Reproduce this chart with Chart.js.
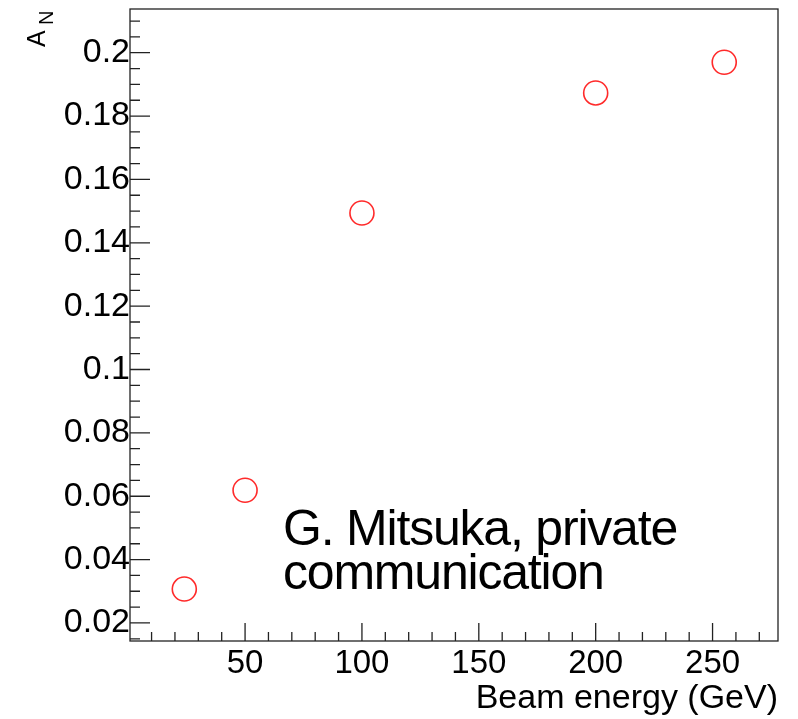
<!DOCTYPE html>
<html>
<head>
<meta charset="utf-8">
<script src="https://cdn.jsdelivr.net/npm/chart.js@4/dist/chart.umd.min.js"></script>
<style>
  html, body { margin: 0; padding: 0; background: #fff; }
  canvas { display: block; }
</style>
</head>
<body>
<canvas id="an-vs-energy" width="798" height="719"></canvas>
<script>
// Beam energy (GeV) and analysing power A_N
const energies = [24, 50, 100, 200, 255]
const asymmetries = [0.0307, 0.0619, 0.1494, 0.1873, 0.197]

// Axis ranges and ticks
const xRange = [0.77, 278]
const yRange = [0.0143, 0.2138]
const xTickValues = [50, 100, 150, 200, 250]
const yTickValues = [0.02, 0.04, 0.06, 0.08, 0.1, 0.12, 0.14, 0.16, 0.18, 0.2]
const yTickLabels = ['0.02', '0.04', '0.06', '0.08', '0.1', '0.12', '0.14', '0.16', '0.18', '0.2']
const xMinorStep = 10
const yMinorStep = 0.005

const FONT = 'Liberation Sans, Arial, Helvetica, sans-serif'

// ROOT-style frame with inward tick marks
const framePlugin = {
  id: 'frame',
  afterDraw(chart) {
    const { ctx, chartArea: a, scales } = chart
    const xs = scales.x
    const ys = scales.y
    ctx.save()
    ctx.strokeStyle = '#222'
    ctx.lineWidth = 1.3
    ctx.strokeRect(a.left, a.top, a.right - a.left, a.bottom - a.top)

    ctx.beginPath()
    for (let v = Math.ceil(xRange[0] / xMinorStep) * xMinorStep; v <= xRange[1]; v += xMinorStep) {
      const px = xs.getPixelForValue(v)
      const len = v % 50 === 0 ? 18 : 9
      ctx.moveTo(px, a.bottom)
      ctx.lineTo(px, a.bottom - len)
    }
    for (let i = Math.ceil(yRange[0] / yMinorStep); i * yMinorStep <= yRange[1]; i++) {
      const v = i * yMinorStep
      const py = ys.getPixelForValue(v)
      const len = i % 4 === 0 ? 20 : 10
      ctx.moveTo(a.left, py)
      ctx.lineTo(a.left + len, py)
    }
    ctx.stroke()

    // y axis title A_N, rotated
    ctx.fillStyle = '#000'
    ctx.translate(45, 47)
    ctx.rotate(-Math.PI / 2)
    ctx.textAlign = 'left'
    ctx.textBaseline = 'alphabetic'
    ctx.font = '25px ' + FONT
    ctx.fillText('A', 0, 0)
    ctx.font = '20px ' + FONT
    ctx.fillText('N', 22, 8)
    ctx.restore()

    // note in lower right of the frame
    ctx.save()
    ctx.fillStyle = '#000'
    ctx.font = '50px ' + FONT
    ctx.letterSpacing = '-1.2px'
    ctx.textAlign = 'left'
    ctx.textBaseline = 'alphabetic'
    ctx.fillText('G. Mitsuka, private', a.left + 153, 545)
    ctx.fillText('communication', a.left + 153, 589)
    ctx.restore()
  },
}

const ctxAn = document.getElementById('an-vs-energy').getContext('2d')

const configAn = {
  type: 'scatter',
  data: {
    datasets: [
      {
        data: energies.map((e, i) => ({ x: e, y: asymmetries[i] })),
        pointStyle: 'circle',
        pointRadius: 12,
        pointHoverRadius: 12,
        borderColor: '#ff2a2a',
        borderWidth: 1.6,
        backgroundColor: 'rgba(0,0,0,0)',
        showLine: false,
      },
    ],
  },
  options: {
    responsive: false,
    animation: false,
    devicePixelRatio: 1,
    layout: { autoPadding: false, padding: { top: 9, right: 20, left: 0, bottom: 0 } },
    plugins: {
      legend: { display: false },
      tooltip: { enabled: false },
    },
    scales: {
      x: {
        type: 'linear',
        min: xRange[0],
        max: xRange[1],
        afterBuildTicks: s => {
          s.ticks = xTickValues.map(v => ({ value: v }))
        },
        afterFit: s => {
          s.height = 78
          s.paddingLeft = 0
          s.paddingRight = 0
        },
        grid: { display: false, drawTicks: false },
        border: { display: false },
        ticks: {
          autoSkip: false,
          maxRotation: 0,
          padding: 3,
          color: '#000',
          font: { family: FONT, size: 33 },
          callback: value => String(value),
        },
        title: {
          display: true,
          text: 'Beam energy (GeV)',
          align: 'end',
          color: '#000',
          font: { family: FONT, size: 34 },
          padding: { top: 0, bottom: 0 },
        },
      },
      y: {
        type: 'linear',
        min: yRange[0],
        max: yRange[1],
        afterBuildTicks: s => {
          s.ticks = yTickValues.map(v => ({ value: v }))
        },
        afterFit: s => {
          s.width = 130
          s.paddingTop = 0
          s.paddingBottom = 0
        },
        grid: { display: false, drawTicks: false },
        border: { display: false },
        ticks: {
          autoSkip: false,
          padding: 0,
          color: '#000',
          font: { family: FONT, size: 34 },
          callback: (value, index) => yTickLabels[index],
        },
      },
    },
  },
  plugins: [framePlugin],
}

const anChart = new Chart(ctxAn, configAn)
</script>
</body>
</html>
